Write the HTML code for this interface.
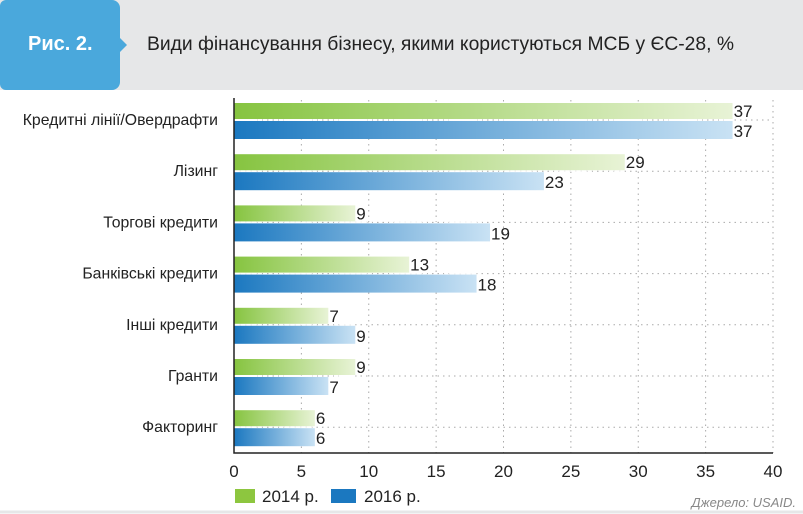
<!DOCTYPE html>
<html><head><meta charset="utf-8"><style>
body{margin:0;width:803px;height:514px;background:#fff;font-family:"Liberation Sans",sans-serif;overflow:hidden;position:relative}
#hdr{position:absolute;left:0;top:0;width:803px;height:90px;background:#e6e7e8}
#tab{position:absolute;left:0;top:0;width:120px;height:90px;background:#4aa8dc;border-radius:6px 8px 8px 6px}
#tab:after{content:"";position:absolute;right:-7px;top:38px;border-left:7px solid #4aa8dc;border-top:7px solid transparent;border-bottom:7px solid transparent}
#tabt{position:absolute;left:28px;top:33px;color:#fff;font-weight:bold;font-size:20px}
#title{position:absolute;left:147px;top:34px;font-size:19.3px;color:#222}
</style></head><body>
<div id="hdr"></div>
<div id="tab"><span id="tabt">Рис. 2.</span></div>
<div id="title">Види фінансування бізнесу, якими користуються МСБ у ЄС-28, %</div>
<svg id="chart" width="803" height="514" style="position:absolute;left:0;top:0">
<defs>
<linearGradient id="gG" x1="0" x2="1"><stop offset="0" stop-color="#86c440"/><stop offset="1" stop-color="#e8f3d6"/></linearGradient>
<linearGradient id="gB" x1="0" x2="1"><stop offset="0" stop-color="#1b78c0"/><stop offset="1" stop-color="#c9e2f4"/></linearGradient>
</defs>
</svg>
<script>
const categories=["Кредитні лінії/Овердрафти","Лізинг","Торгові кредити","Банківські кредити","Інші кредити","Гранти","Факторинг"];
const values2014=[37,29,9,13,7,9,6];
const values2016=[37,23,19,18,9,7,6];
const ticks=[0,5,10,15,20,25,30,35,40];
const svg=document.getElementById('chart');const NS="http://www.w3.org/2000/svg";
const x=v=>234+v*(773-234)/40;
const yc=i=>120+i*51.2;
function mk(t,a,txt){const e=document.createElementNS(NS,t);for(const k in a)e.setAttribute(k,a[k]);if(txt!==undefined)e.textContent=txt;svg.appendChild(e);return e;}
ticks.forEach((t,i)=>{if(t>0){const g=mk('line',{x1:x(t),x2:x(t),y1:100,y2:453,stroke:'#aaa','stroke-dasharray':'1.5,4'});

}
const l=mk('text',{x:x(t),y:477,'text-anchor':'middle','font-size':17,fill:'#222'},t);

});
categories.forEach((c,i)=>{const y=yc(i);
const g=mk('line',{x1:234,x2:773,y1:y,y2:y,stroke:'#aaa','stroke-dasharray':'1.5,4'});


const b1=mk('rect',{x:234,y:y-17,width:x(values2014[i])-234,height:16,fill:'url(#gG)'});


const b2=mk('rect',{x:234,y:y+1,width:x(values2016[i])-234,height:18,fill:'url(#gB)'});


mk('line',{x1:234,x2:Math.max(x(values2014[i]),x(values2016[i])),y1:y,y2:y,stroke:'#fff','stroke-dasharray':'3,2'});
const v1=mk('text',{x:x(values2014[i])+1,y:y-3,'font-size':17,fill:'#222'},values2014[i]);


const v2=mk('text',{x:x(values2016[i])+1,y:y+17,'font-size':17,fill:'#222'},values2016[i]);


const cl=mk('text',{x:218,y:y+5,'text-anchor':'end','font-size':15.8,fill:'#222'},c);

});
const ax=mk('path',{d:'M234 98 V453 H773',fill:'none',stroke:'#222','stroke-width':1.5});


const lg1=mk('rect',{x:235,y:489,width:20,height:14,fill:'#8dc63f'});


const lt1=mk('text',{x:262,y:502,'font-size':17,fill:'#222'},'2014 р.');


const lg2=mk('rect',{x:331,y:489,width:25,height:14,fill:'#1b78c0'});


const lt2=mk('text',{x:364,y:502,'font-size':17,fill:'#222'},'2016 р.');


const src=mk('text',{x:796,y:507,'text-anchor':'end','font-size':13,'font-style':'italic',fill:'#888'},'Джерело: USAID.');


mk('line',{x1:0,x2:803,y1:512,y2:512,stroke:'#e6e7e8','stroke-width':3});
</script>
</body></html>
